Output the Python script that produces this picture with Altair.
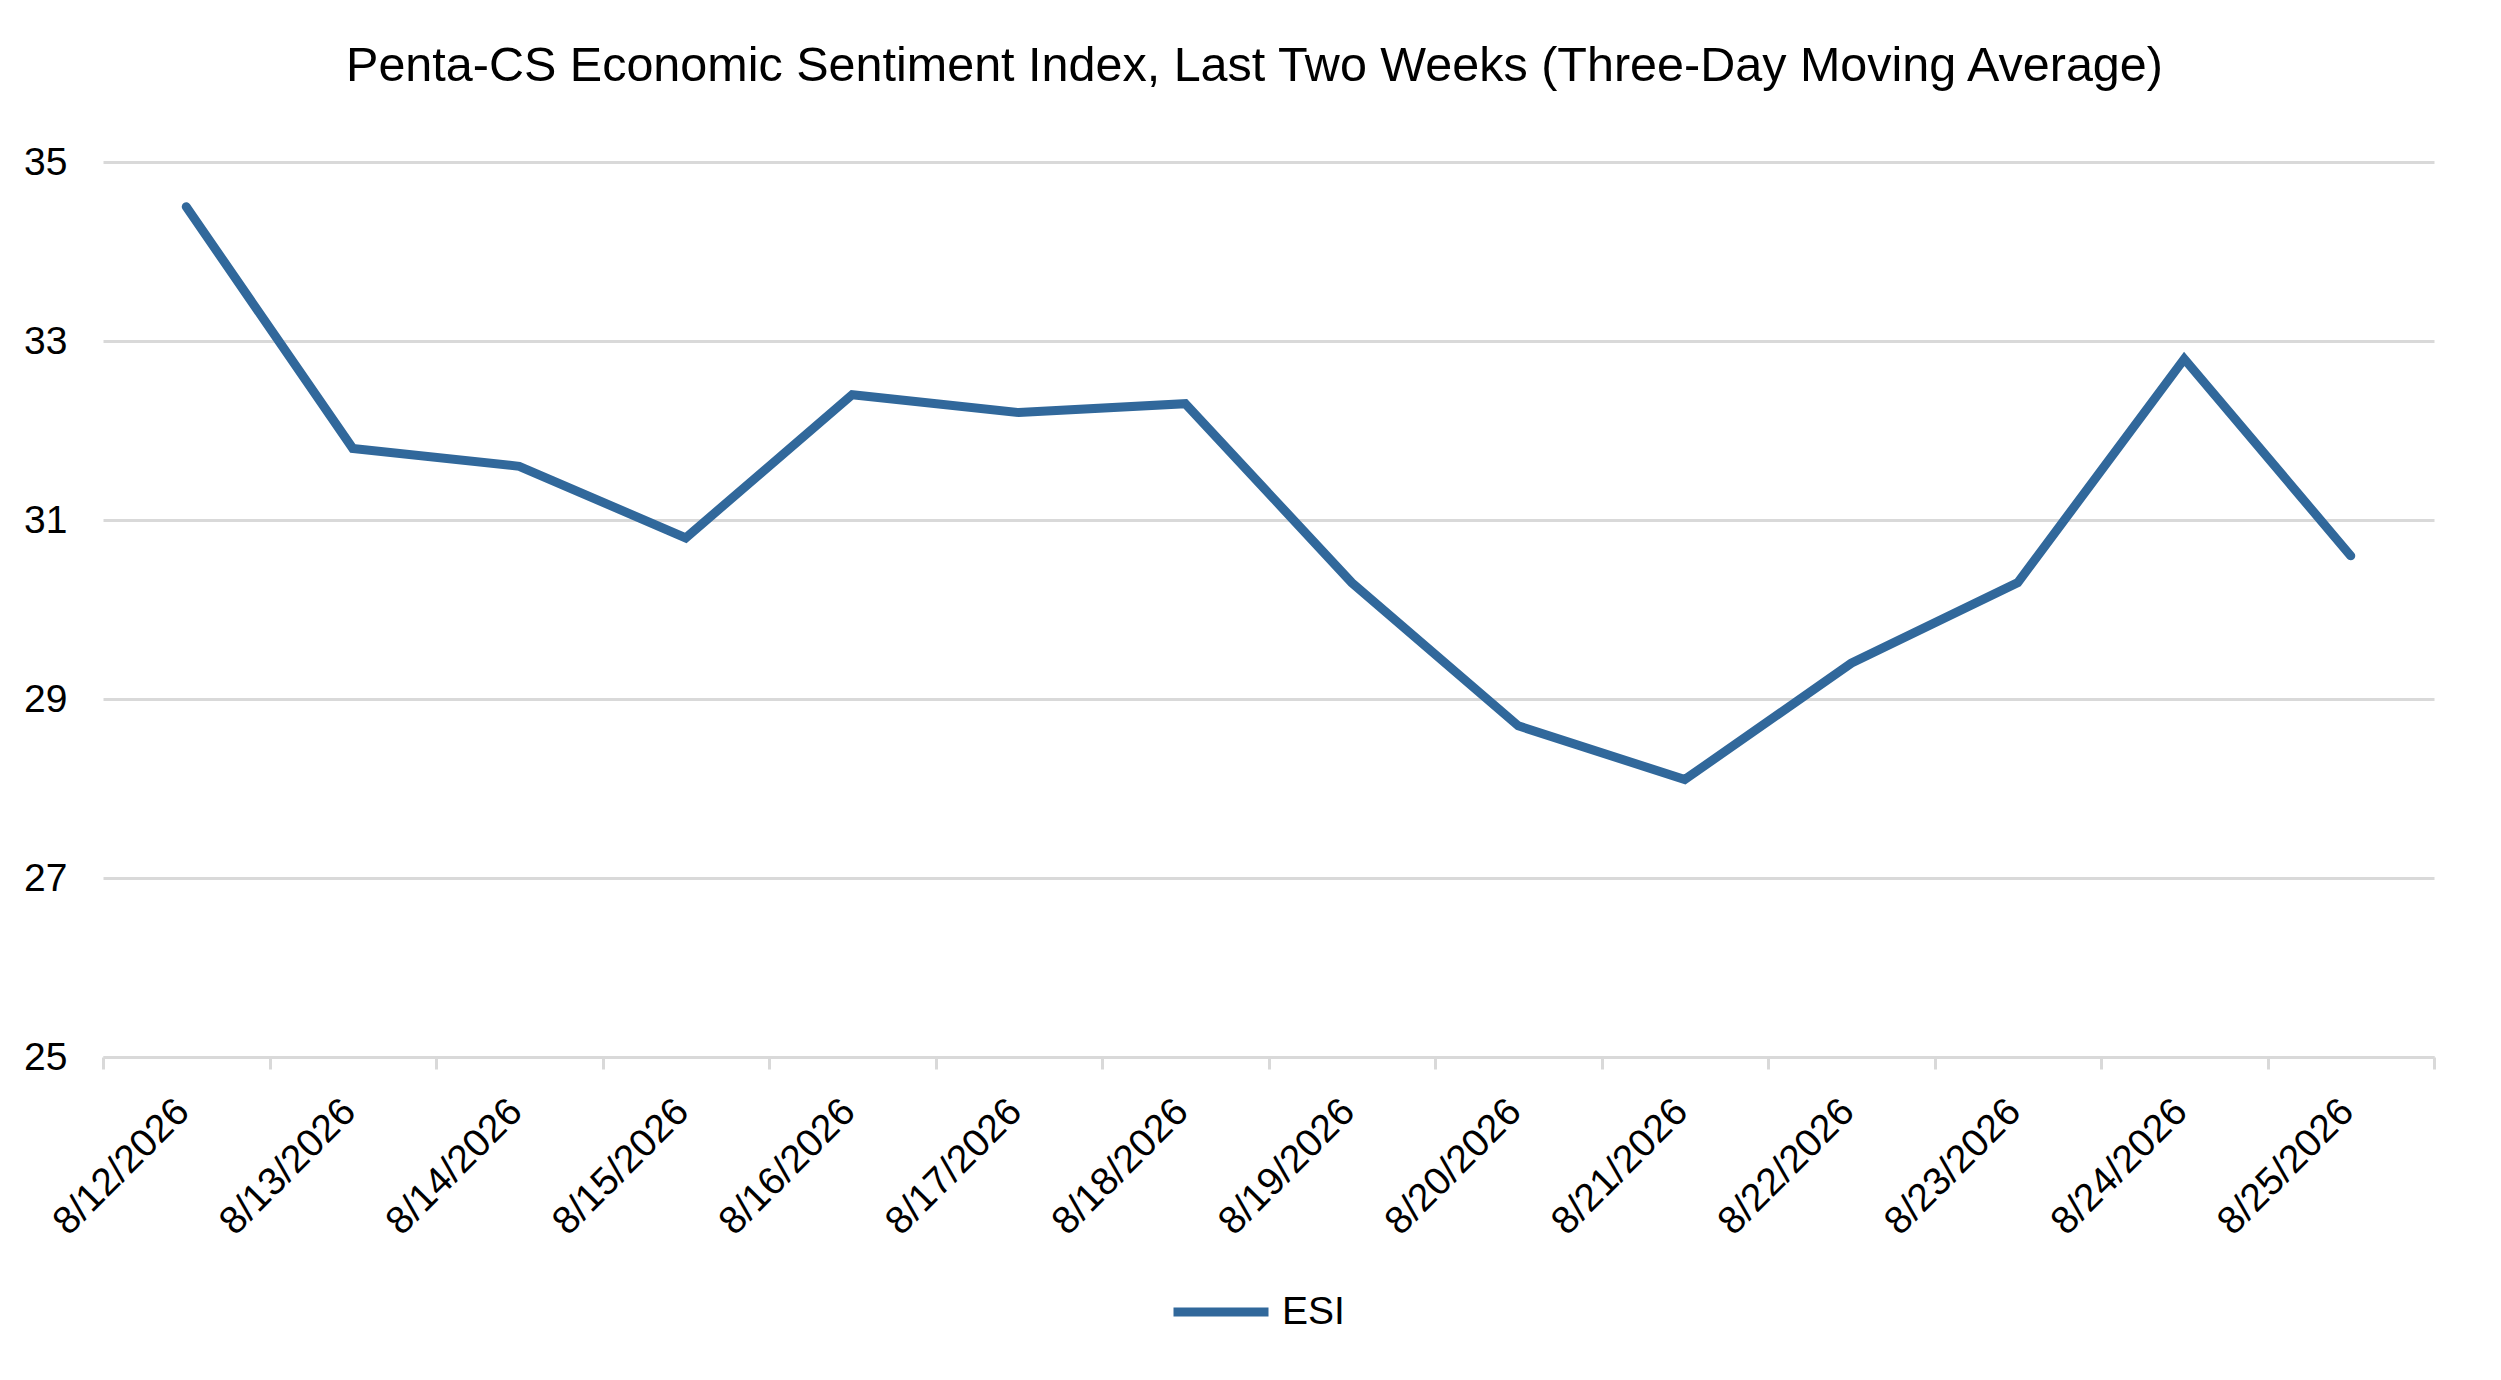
import altair as alt
import pandas as pd

# ---- data ----
dates = ["8/12/2026", "8/13/2026", "8/14/2026", "8/15/2026", "8/16/2026",
         "8/17/2026", "8/18/2026", "8/19/2026", "8/20/2026", "8/21/2026",
         "8/22/2026", "8/23/2026", "8/24/2026", "8/25/2026"]
esi = [34.5, 31.8, 31.6, 30.8, 32.4, 32.2, 32.3, 30.3, 28.7, 28.1, 29.4, 30.3, 32.8, 30.6]
series_name = "ESI"
y_ticks = [25, 27, 29, 31, 33, 35]
y_domain = [25, 35]
title_text = "Penta-CS Economic Sentiment Index, Last Two Weeks (Three-Day Moving Average)"

df = pd.DataFrame({"date": dates, "value": esi, "series": [series_name] * len(dates)})

FONT = "Liberation Sans"
LINE_COLOR = "#31689B"
GRID = "#D9D9D9"

chart = alt.Chart(df).mark_line(
    strokeWidth=9, strokeCap="round"
).encode(
    x=alt.X(
        "date:N", sort=dates, bandPosition=0.5,
        scale=alt.Scale(type="band", paddingInner=0, paddingOuter=0),
        axis=alt.Axis(
            title=None, tickBand="extent", grid=False,
            labelAngle=-45, labelAlign="right", labelBaseline="middle",
            labelPadding=36, labelOffset=-4,
            labelFont=FONT, labelFontSize=39, labelColor="black",
            ticks=True, tickSize=12, tickColor=GRID, tickWidth=3,
            domain=True, domainColor=GRID, domainWidth=3,
        ),
    ),
    y=alt.Y(
        "value:Q",
        scale=alt.Scale(domain=y_domain, nice=False, zero=False),
        axis=alt.Axis(
            title=None, values=y_ticks, grid=True, gridColor=GRID, gridWidth=3,
            domain=False, ticks=False, labelPadding=36,
            labelFont=FONT, labelFontSize=39, labelColor="black",
        ),
    ),
    color=alt.Color(
        "series:N",
        scale=alt.Scale(domain=[series_name], range=[LINE_COLOR]),
        legend=alt.Legend(
            title=None, orient="none", legendX=1066, legendY=1098,
            symbolType="stroke", symbolSize=9025, symbolStrokeWidth=9,
            labelFont=FONT, labelFontSize=39, labelColor="black", labelOffset=9,
        ),
    ),
).properties(
    width=2331,
    height=895,
    title=alt.TitleParams(
        text=title_text, font=FONT, fontSize=48.5, fontWeight="normal",
        color="black", anchor="middle", offset=52, dx=-14,
    ),
    padding={"left": 95, "top": 154, "right": 50, "bottom": 300},
    autosize=alt.AutoSizeParams(type="none"),
).configure(
    background="white",
    view=alt.ViewConfig(stroke=None),
)

chart.save("out.html", embed_options={"renderer": "svg", "actions": False})
